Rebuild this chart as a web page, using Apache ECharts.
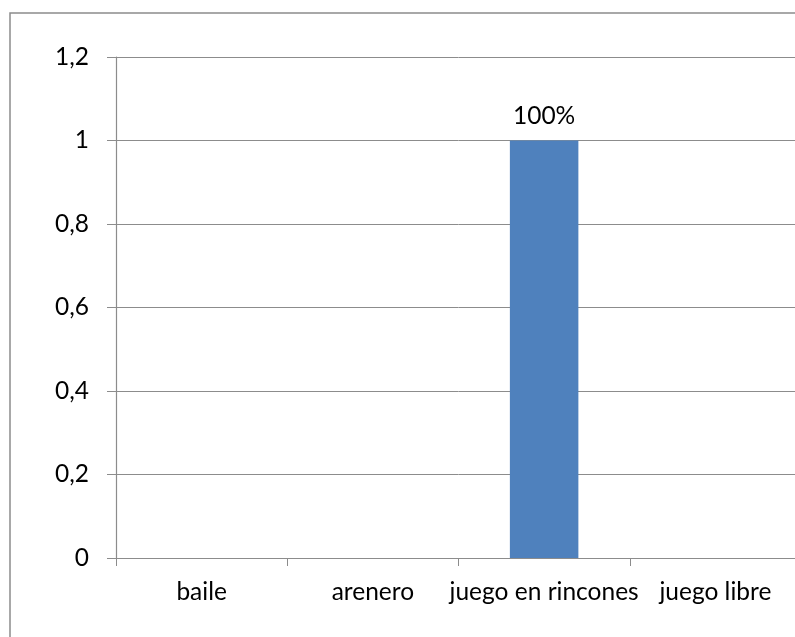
<!DOCTYPE html>
<html>
<head>
<meta charset="utf-8">
<script src="https://cdn.jsdelivr.net/npm/echarts@6/dist/echarts.min.js"></script>
<style>
html,body{margin:0;padding:0;background:#fff;overflow:hidden;width:795px;height:637px;}
#c{width:830px;height:680px;}
</style>
</head>
<body>
<div id="c"></div>
<script>
const categories = ["baile", "arenero", "juego en rincones", "juego libre"];
const values = [0, 0, 1, 0];
const dataLabels = ["", "", "100%", ""];
const yTicks = { min: 0, max: 1.2, interval: 0.2 };

const chart = echarts.init(document.getElementById('c'));
const font = 'Lato, "Open Sans", sans-serif';
chart.setOption({
  animation: false,
  backgroundColor: '#fff',
  graphic: [{
    type: 'rect',
    shape: { x: 10, y: 13, width: 840, height: 720 },
    style: { fill: 'none', stroke: '#8c8c8c', lineWidth: 1.5 },
    silent: true
  }],
  grid: { left: 116, top: 57, width: 685, height: 501, containLabel: false },
  xAxis: {
    type: 'category',
    data: categories,
    axisLine: { lineStyle: { color: '#8c8c8c', width: 1.2 } },
    axisTick: { show: true, interval: 0, length: 8, lineStyle: { color: '#8c8c8c' } },
    axisLabel: { color: '#000', fontSize: 24.5, fontFamily: font, margin: 22, interval: 0, hideOverlap: false }
  },
  yAxis: {
    type: 'value',
    min: yTicks.min, max: yTicks.max, interval: yTicks.interval,
    axisLine: { show: true, lineStyle: { color: '#8c8c8c', width: 1.2 } },
    axisTick: { show: true, length: 9, lineStyle: { color: '#8c8c8c' } },
    splitLine: { show: true, lineStyle: { color: '#8c8c8c', width: 1 } },
    axisLabel: {
      color: '#000', fontSize: 24.5, fontFamily: font, margin: 27,
      formatter: v => String(Math.round(v * 10) / 10).replace('.', ',')
    }
  },
  series: [{
    type: 'bar',
    data: values,
    barWidth: '40%',
    itemStyle: { color: '#4F81BD' },
    label: {
      show: true, position: 'top', distance: 12,
      color: '#000', fontSize: 24.5, fontFamily: font,
      formatter: p => dataLabels[p.dataIndex]
    }
  }]
});
</script>
</body>
</html>
